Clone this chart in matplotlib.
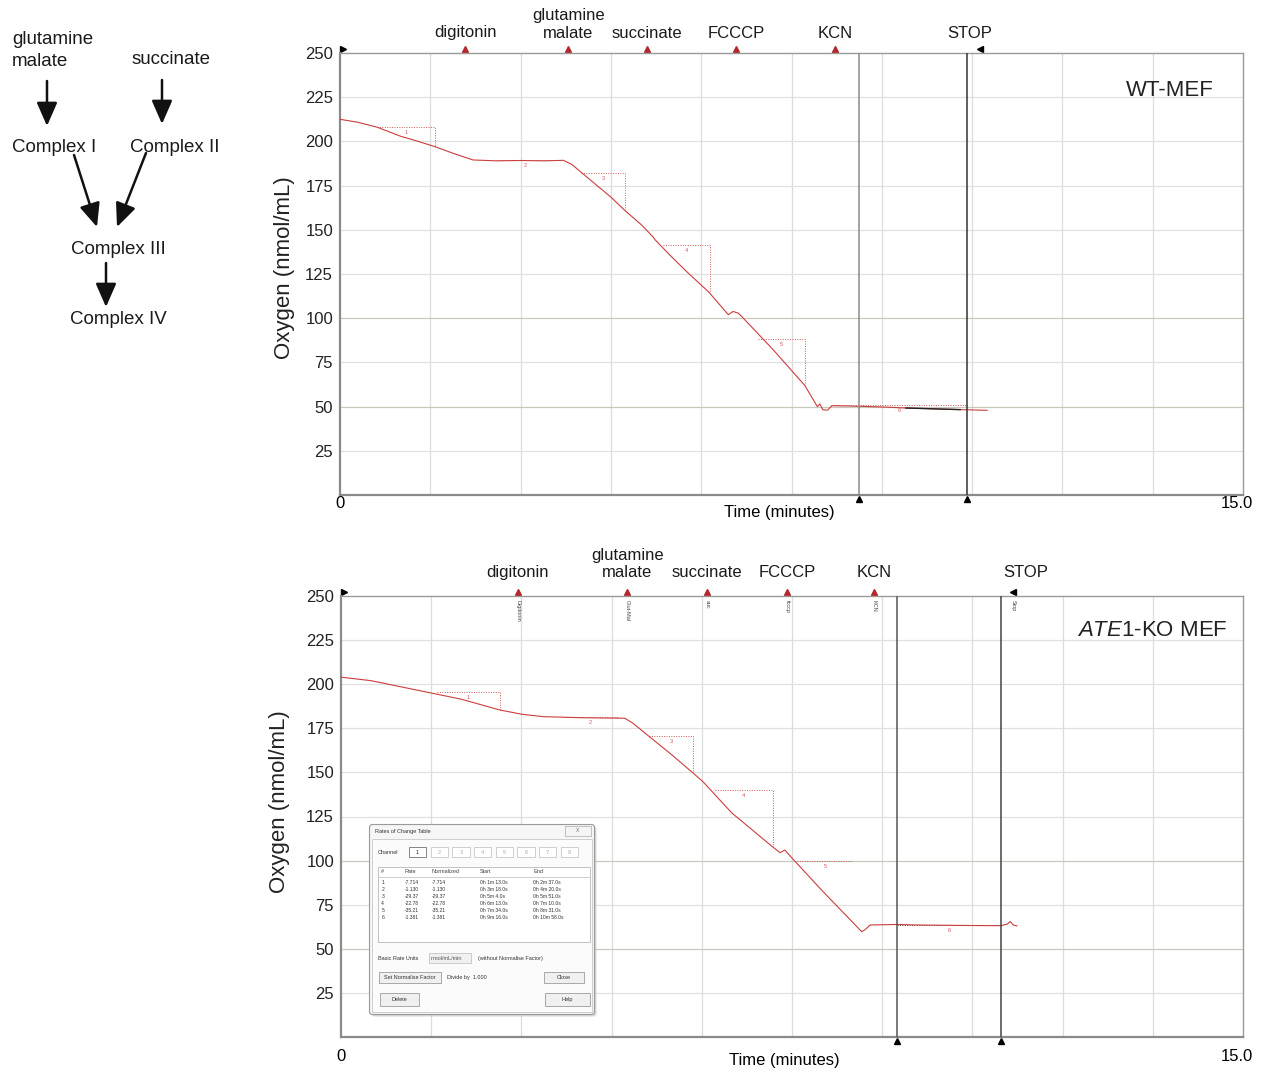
import numpy as np
import matplotlib.pyplot as plt
from matplotlib.patches import FancyBboxPatch, Rectangle

plt.rcParams['font.family'] = ['Liberation Sans', 'DejaVu Sans']
plt.rcParams['mathtext.fontset'] = 'custom'
plt.rcParams['mathtext.it'] = 'Liberation Sans:italic'
plt.rcParams['mathtext.rm'] = 'Liberation Sans'

# ---- oxygen traces (minutes, nmol/mL) ----
wt_time = [0.0, 0.3, 0.62, 1.0, 1.3, 1.58, 1.9, 2.21, 2.6, 3.0, 3.4, 3.71, 3.85, 4.2, 4.5,
           4.73, 5.0, 5.2, 5.23, 5.5, 5.8, 6.12, 6.45, 6.53, 6.62, 6.70, 7.2, 7.72, 7.93,
           7.97, 8.02, 8.1, 8.17, 8.5, 9.0, 9.4, 9.8, 10.3, 10.42, 10.75]
wt_o2 = [212.5, 210.8, 208.0, 203.0, 200.0, 197.0, 193.0, 189.5, 189.0, 189.2, 189.0, 189.3,
         187.0, 177.0, 168.5, 161.0, 153.0, 146.0, 144.5, 135.0, 125.0, 115.0, 102.0, 103.8,
         102.8, 100.0, 82.0, 62.0, 50.0, 51.5, 48.2, 48.0, 50.5, 50.3, 49.8, 49.2, 48.8, 48.3,
         48.2, 47.9]
wt_dark_span = (9.4, 10.3)

ko_time = [0.0, 0.5, 1.0, 1.5, 2.0, 2.64, 3.0, 3.36, 4.0, 4.72, 4.85, 5.12, 5.5, 5.86, 6.02,
           6.5, 7.17, 7.3, 7.38, 7.52, 8.0, 8.66, 8.72, 8.8, 9.25, 9.6, 10.5, 10.97, 11.08,
           11.13, 11.18, 11.24]
ko_o2 = [204.0, 202.0, 198.5, 195.0, 191.5, 185.4, 183.0, 181.6, 181.0, 180.7, 178.0, 170.5,
         160.0, 149.5, 144.7, 127.0, 108.0, 104.5, 106.0, 100.7, 83.0, 59.7, 61.0, 63.5, 63.8,
         63.5, 63.2, 63.1, 64.0, 65.5, 63.5, 63.0]

# rate-of-change selections (start, end, value at start, value at end)
wt_box_t0 = [0.62, 2.60, 4.01, 5.37, 6.95, 8.15]
wt_box_t1 = [1.58, 3.55, 4.73, 6.14, 7.72, 10.42]
wt_box_top = [208.0, 189.5, 182.0, 141.2, 88.0, 51.0]
wt_box_end = [197.0, 189.0, 161.0, 115.0, 62.0, 50.5]

ko_box_t0 = [1.60, 3.70, 5.12, 6.22, 7.58, 9.25]
ko_box_t1 = [2.64, 4.60, 5.86, 7.18, 8.52, 10.97]
ko_box_top = [195.4, 181.5, 170.8, 139.8, 99.8, 63.5]
ko_box_end = [185.4, 181.0, 149.5, 107.9, 99.8, 63.0]
box_tags = ['1', '2', '3', '4', '5', '6']

# additions
event_names = ['digitonin', 'glutamine\nmalate', 'succinate', 'FCCCP', 'KCN']
wt_event_t = [2.08, 3.79, 5.10, 6.58, 8.22]
ko_event_t = [2.94, 4.76, 6.09, 7.42, 8.86]
ko_event_tags = ['Digitonin', 'Glut-Mal', 'suc', 'fcccp', 'KCN']
wt_stop_t = 10.63
ko_stop_t = 11.18
wt_cursor_t = [8.62, 10.42]
ko_cursor_t = [9.25, 10.97]

y_ticks = [25, 50, 75, 100, 125, 150, 175, 200, 225, 250]

# rates table shown in the software dialog
rate_rows = ['1', '2', '3', '4', '5', '6']
rate_vals = ['-7.714', '-1.130', '-29.37', '-22.78', '-35.21', '-1.381']
rate_start = ['0h 1m 13.0s', '0h 3m 18.0s', '0h 5m 4.0s', '0h 6m 13.0s', '0h 7m 34.0s', '0h 9m 16.0s']
rate_end = ['0h 2m 37.0s', '0h 4m 20.0s', '0h 5m 51.0s', '0h 7m 10.0s', '0h 8m 31.0s', '0h 10m 58.0s']

trace_col = '#cc3d3d'
box_col = '#d05858'
marker_col = '#b3272d'


def draw_panel(ax, time, o2, b0, b1, btop, bend, box_colors, ev_t, stop_t, cursors,
               cursor_cols, label_pad, stop_dx, tick_y, xlab_xy):
    ax.set_xlim(0, 15)
    ax.set_ylim(0, 250)
    for x in np.arange(1.5, 15, 1.5):
        ax.axvline(x, color='#dcdcdc', lw=0.9, zorder=0)
    for y in y_ticks[:-1]:
        ax.axhline(y, color='#c8c8bc' if y in (50, 100) else '#e0e0e0', lw=0.9, zorder=0)

    ax.plot(time, o2, color=trace_col, lw=0.8, zorder=3)
    for t0, t1, a, b, tag, c in zip(b0, b1, btop, bend, box_tags, box_colors):
        ax.plot([t0, t1, t1], [a, a, b], ls=(0, (1, 1.5)), color=c, lw=0.7, zorder=2)
        ax.text((t0 + t1) / 2, a - 3, tag, fontsize=4, color=box_col, ha='center', va='center')

    xt = ax.get_xaxis_transform()
    for c, col in zip(cursors, cursor_cols):
        ax.axvline(c, color=col, lw=1.1, zorder=4)
    ax.plot(cursors, [-0.008] * len(cursors), transform=xt, ls='none', marker='^',
            color='k', ms=4.5, clip_on=False)

    ax.plot(ev_t, [1.009] * len(ev_t), transform=xt, ls='none', marker='^',
            color=marker_col, ms=4.5, clip_on=False)
    ax.plot([0.05], [1.009], transform=xt, marker='>', color='k', ms=4, clip_on=False)
    ax.plot([stop_t], [1.009], transform=xt, marker='<', color='k', ms=4, clip_on=False)
    for t, name in zip(ev_t, event_names):
        ax.annotate(name, xy=(t, 1), xycoords=xt, xytext=(0, label_pad),
                    textcoords='offset points', ha='center', va='bottom', fontsize=12,
                    color='#1a1a1a')
    ax.annotate('STOP', xy=(stop_t, 1), xycoords=xt, xytext=(stop_dx, label_pad),
                textcoords='offset points', ha='center', va='bottom', fontsize=12,
                color='#1a1a1a')

    ax.set_xticks([])
    ax.set_yticks(y_ticks)
    ax.tick_params(axis='y', length=0, pad=5, labelsize=12, labelcolor='#222222')
    for s in ['left', 'bottom']:
        ax.spines[s].set_color('#8a8a8a')
        ax.spines[s].set_linewidth(1.6)
    for s in ['top', 'right']:
        ax.spines[s].set_color('#9a9a9a')
        ax.spines[s].set_linewidth(1.0)
    ax.text(0.0, tick_y, '0', transform=ax.transAxes, ha='center', va='center', fontsize=12)
    ax.text(0.9934, tick_y, '15.0', transform=ax.transAxes, ha='center', va='center', fontsize=12)
    ax.text(xlab_xy[0], xlab_xy[1], 'Time (minutes)', transform=ax.transAxes,
            ha='center', va='center', fontsize=12)
    ax.set_ylabel('Oxygen (nmol/mL)', fontsize=16, color='#222222')


fig = plt.figure(figsize=(12.67, 10.74), dpi=100)
W, H = 1267, 1074
ax_wt = fig.add_axes([340 / W, 1 - 495 / H, 903 / W, 442 / H])
ax_ko = fig.add_axes([341 / W, 1 - 1037 / H, 902 / W, 441 / H])

draw_panel(ax_wt, wt_time, wt_o2, wt_box_t0, wt_box_t1, wt_box_top, wt_box_end,
           [box_col] * 6, wt_event_t, wt_stop_t, wt_cursor_t, ['#8a8a8a', '#333333'],
           9, -7, -0.02, (0.487, -0.0385))
draw_panel(ax_ko, ko_time, ko_o2, ko_box_t0, ko_box_t1, ko_box_top, ko_box_end,
           [box_col] * 5 + ['#4a2a2a'], ko_event_t, ko_stop_t, ko_cursor_t,
           ['#555555', '#444444'], 11.5, 9, -0.045, (0.491, -0.054))

# darker selected stretch on the WT trace
wt_t = np.array(wt_time)
wt_y = np.array(wt_o2)
sel = (wt_t >= wt_dark_span[0]) & (wt_t <= wt_dark_span[1])
ax_wt.plot(wt_t[sel], wt_y[sel], color='#222222', lw=1.0, zorder=3.5)

ax_wt.yaxis.set_label_coords(-0.05, 0.514)
ax_ko.yaxis.set_label_coords(-0.0565, 0.533)

ax_wt.text(0.919, 0.916, 'WT-MEF', transform=ax_wt.transAxes, ha='center', va='center',
           fontsize=16, color='#222222')
ax_ko.text(0.899, 0.921, r'$\it{ATE1}$-KO MEF', transform=ax_ko.transAxes, ha='center',
           va='center', fontsize=16, color='#222222')

xt_ko = ax_ko.get_xaxis_transform()
for t, tag in zip(ko_event_t + [ko_stop_t], ko_event_tags + ['Stop']):
    ax_ko.text(t, 0.99, tag, transform=xt_ko, rotation=270, fontsize=4, ha='center',
               va='top', color='#444444')

# ---- pathway diagram ----
ax_d = fig.add_axes([0, 0, 1, 1], zorder=-1)
ax_d.set_xlim(0, W)
ax_d.set_ylim(H, 0)
ax_d.axis('off')
diag_fs = 13.5
ax_d.text(12, 40, 'glutamine', fontsize=diag_fs, va='center', color='#1a1a1a')
ax_d.text(12, 61, 'malate', fontsize=diag_fs, va='center', color='#1a1a1a')
ax_d.text(132, 60, 'succinate', fontsize=diag_fs, va='center', color='#1a1a1a')
ax_d.text(12, 147, 'Complex I', fontsize=diag_fs, va='center', color='#1a1a1a')
ax_d.text(130, 147, 'Complex II', fontsize=diag_fs, va='center', color='#1a1a1a')
ax_d.text(71, 250, 'Complex III', fontsize=diag_fs, va='center', color='#1a1a1a')
ax_d.text(70, 320, 'Complex IV', fontsize=diag_fs, va='center', color='#1a1a1a')
arrow_kw = dict(arrowstyle='-|>,head_length=0.8,head_width=0.35', lw=1.8, color='#111111',
                mutation_scale=18, shrinkA=0, shrinkB=0)
for tail, tip in [((47, 81), (47, 126)), ((162, 80), (162, 124)), ((74, 155), (97, 227)),
                  ((146, 153), (117, 227)), ((106, 263), (106, 307))]:
    ax_d.annotate('', xy=tip, xytext=tail, arrowprops=arrow_kw)

# ---- software dialog overlaid on the KO chart ----
ax_t = fig.add_axes([369 / W, 1 - 1015 / H, 226 / W, 191 / H], zorder=10)
ax_t.set_xlim(0, 226)
ax_t.set_ylim(191, 0)
ax_t.axis('off')
ax_t.add_patch(FancyBboxPatch((2.5, 2.5), 225, 190, boxstyle='round,pad=0,rounding_size=3',
                              fc='#bdbdbd', ec='none', alpha=0.6, clip_on=False))
ax_t.add_patch(FancyBboxPatch((0.5, 0.5), 225, 190, boxstyle='round,pad=0,rounding_size=3',
                              fc='#f6f6f6', ec='#9a9a9a', lw=0.8, clip_on=False))
ax_t.add_patch(Rectangle((3, 15), 220, 173, fc='#fbfbfb', ec='#c8c8c8', lw=0.6))
fs = 4
ax_t.text(5.7, 7.7, 'Rates of Change Table', fontsize=fs, va='center', color='#333333')
ax_t.add_patch(Rectangle((196, 1.5), 26, 10.5, fc='#f4f4f4', ec='#aaaaaa', lw=0.5))
ax_t.text(209, 6.8, 'X', fontsize=3.5, ha='center', va='center', color='#666666')
ax_t.text(9, 28.5, 'Channel', fontsize=fs, va='center', color='#333333')
for i, x0 in enumerate([40, 61.7, 83.3, 105, 126.7, 148.3, 170, 191.7]):
    ax_t.add_patch(Rectangle((x0, 22.7), 17.3, 10.6, fc='white',
                             ec='#555555' if i == 0 else '#bbbbbb', lw=0.5))
    ax_t.text(x0 + 8.6, 28.2, str(i + 1), fontsize=fs, ha='center', va='center',
              color='#222222' if i == 0 else '#aaaaaa')
ax_t.add_patch(Rectangle((9, 42.7), 211.7, 75, fc='white', ec='#aaaaaa', lw=0.5))
ax_t.plot([10, 219.7], [52.7, 52.7], color='#bbbbbb', lw=0.5)
col_x = [12.3, 35.7, 62.3, 110.7, 164]
for x, h in zip(col_x, ['#', 'Rate', 'Normalized', 'Start', 'End']):
    ax_t.text(x, 47.5, h, fontsize=fs, va='center', color='#444444')
for i in range(len(rate_rows)):
    y = 58.3 + 7 * i
    for x, v in zip(col_x, [rate_rows[i], rate_vals[i], rate_vals[i], rate_start[i], rate_end[i]]):
        ax_t.text(x, y, v, fontsize=3.6, va='center', color='#333333')
ax_t.text(9, 134.3, 'Basic Rate Units', fontsize=fs, va='center', color='#333333')
ax_t.add_patch(Rectangle((59.7, 129.3), 42.6, 9.4, fc='#f0f0f0', ec='#bbbbbb', lw=0.5))
ax_t.text(61.7, 134.3, 'nmol/mL/min', fontsize=fs, va='center', color='#555555')
ax_t.text(109, 134.3, '(without Normalise Factor)', fontsize=fs, va='center', color='#333333')
for (x0, y0, w, h, lab) in [(9.7, 147.7, 62.6, 11.6, 'Set Normalise Factor'),
                            (175, 147.7, 39.7, 11.6, 'Close'),
                            (11.3, 169.3, 38.7, 12.4, 'Delete'),
                            (175.7, 169.3, 45, 12.4, 'Help')]:
    ax_t.add_patch(Rectangle((x0, y0), w, h, fc='#f0f0f0', ec='#8a8a8a', lw=0.5))
    ax_t.text(x0 + w / 2, y0 + h / 2, lab, fontsize=fs, ha='center', va='center',
              color='#333333')
ax_t.text(78, 153.3, 'Divide by  1.000', fontsize=fs, va='center', color='#333333')

fig.savefig('out.png', dpi=100)
